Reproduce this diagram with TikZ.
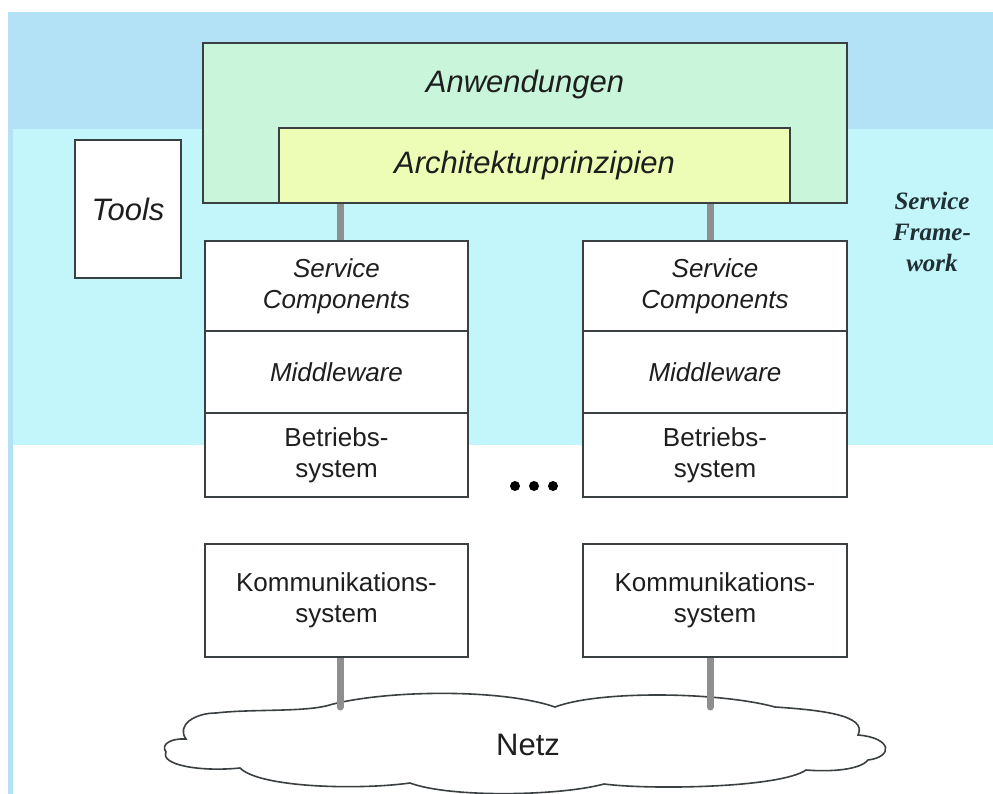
\documentclass[tikz,border=0pt]{standalone}
\usepackage{fontspec}
\setmainfont{Liberation Sans}
\newfontfamily\frameworkfont{Liberation Serif}
\definecolor{bandtop}{HTML}{B3E2F6}
\definecolor{bandmid}{HTML}{C3F6FB}
\definecolor{mint}{HTML}{C9F5DA}
\definecolor{paleyellow}{HTML}{EDFDB5}
\definecolor{boxline}{HTML}{3A3F42}
\definecolor{conncol}{HTML}{8F8F8F}
\definecolor{txt}{HTML}{1E1E1E}
\definecolor{fwtxt}{HTML}{1F2F33}
\pgfdeclarelayer{bg}
\pgfdeclarelayer{links}
\pgfsetlayers{bg,links,main}
\begin{document}
\begin{tikzpicture}[x=1pt,y=-1pt,
  box/.style={draw=boxline, line width=1.6pt, fill=white, text=txt,
    inner sep=0pt, align=center, font=\fontsize{26}{31}\selectfont},
  itbox/.style={box, font=\fontsize{26}{31}\selectfont\itshape},
  bigit/.style={text=txt, inner sep=0pt, font=\fontsize{31}{36}\selectfont\itshape},
  conn/.style={draw=conncol, line width=7pt},
  cloudline/.style={draw=boxline, line width=1.6pt, fill=white}]
\useasboundingbox (0,0) rectangle (993,794);

% layered boxes
\node[box, fill=mint, minimum width=644pt, minimum height=160pt] (anw) at (525,123) {};
\node[bigit] (anwtext) at (525,84) {Anwendungen};
\node[box, fill=paleyellow, minimum width=511pt, minimum height=75pt, font=\fontsize{31}{36}\selectfont\itshape] (arch) at (534.5,165.5) {Architekturprinzipien};
\node[box, minimum width=106pt, minimum height=138pt, font=\fontsize{31}{36}\selectfont\itshape] (tools) at (128,209) {Tools};

% left node stack
\node[itbox, minimum width=263pt, minimum height=90pt] (sc1) at (336.5,286) {Service\\Components};
\node[itbox, minimum width=263pt, minimum height=82pt] (mw1) at (336.5,372) {Middleware};
\node[box, minimum width=263pt, minimum height=84pt] (bs1) at (336.5,455) {Betriebs-\\system};
\node[box, minimum width=263pt, minimum height=113pt] (kom1) at (336.5,600.5) {Kommunikations-\\system};

% right node stack
\node[itbox, minimum width=264pt, minimum height=90pt] (sc2) at (715,286) {Service\\Components};
\node[itbox, minimum width=264pt, minimum height=82pt] (mw2) at (715,372) {Middleware};
\node[box, minimum width=264pt, minimum height=84pt] (bs2) at (715,455) {Betriebs-\\system};
\node[box, minimum width=264pt, minimum height=113pt] (kom2) at (715,600.5) {Kommunikations-\\system};

% ellipsis between the stacks
\foreach \dx in {515,534,553} \fill[black] (\dx,486) circle (5pt);

% side label
\node[text=fwtxt, align=center, inner sep=0pt,
  font=\frameworkfont\bfseries\itshape\fontsize{25}{31}\selectfont] (fw) at (932,232) {Service\\Frame-\\work};

\node[text=txt, inner sep=0pt, font=\fontsize{31}{36}\selectfont] (netz) at (528,745) {Netz};
\coordinate (netzL) at (340,707);
\coordinate (netzR) at (710,707);

\begin{pgfonlayer}{bg}
  % background bands
  \fill[white] (0,0) rectangle (993,794);
  \fill[bandtop] (13,12) rectangle (993,129);
  \fill[bandmid] (13,129) rectangle (993,445);
  \fill[bandtop] (8,12) rectangle (13,794);
  % network cloud
  \path[cloudline] (166,752)
    .. controls (160,744) and (172,738) .. (186,739)
    .. controls (176,725) and (195,713) .. (216,713)
    .. controls (250,709) and (300,712) .. (326,706)
    .. controls (380,690) and (500,688) .. (555,707)
    .. controls (600,690) and (720,692) .. (775,707)
    .. controls (820,710) and (868,715) .. (858,735)
    .. controls (893,738) and (893,757) .. (868,760)
    .. controls (860,770) and (830,772) .. (806,770)
    .. controls (780,788) and (650,790) .. (604,784)
    .. controls (560,796) and (450,798) .. (410,783)
    .. controls (360,790) and (260,788) .. (240,768)
    .. controls (200,772) and (160,765) .. (166,752) -- cycle;
\end{pgfonlayer}

\begin{pgfonlayer}{links}
  \draw[conn] ([xshift=3.5pt]sc1.north) -- ([xshift=3.5pt]sc1.north |- arch.south);
  \draw[conn] ([xshift=-5pt]sc2.north) -- ([xshift=-5pt]sc2.north |- arch.south);
  \draw[conn, line cap=round] (kom1.south -| netzL) -- (netzL);
  \draw[conn, line cap=round] (kom2.south -| netzR) -- (netzR);
\end{pgfonlayer}
\end{tikzpicture}
\end{document}
